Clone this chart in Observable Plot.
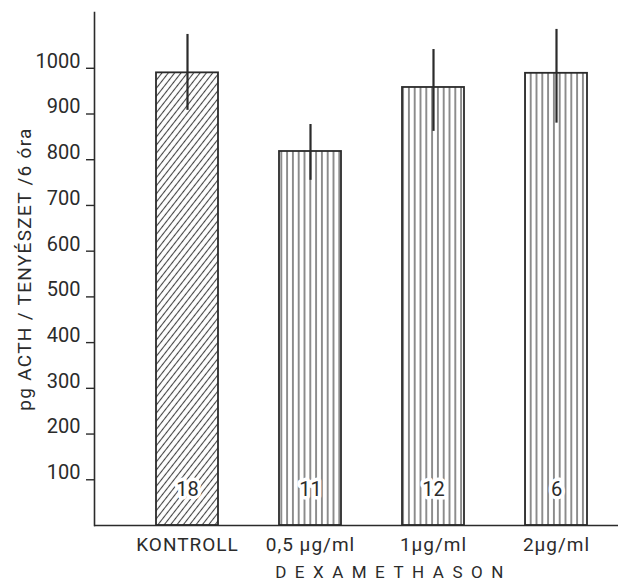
<!DOCTYPE html>
<html>
<head>
<meta charset="utf-8">
<script src="https://cdn.jsdelivr.net/npm/d3@7"></script>
<script src="https://cdn.jsdelivr.net/npm/@observablehq/plot@0.6"></script>
<style>
  html, body { margin: 0; padding: 0; background: #fff; }
</style>
</head>
<body>
<div id="chart"></div>
<script>
const categories = ["KONTROLL", "0,5 µg/ml", "1µg/ml", "2µg/ml"];
const means = [990, 818, 958, 989];
const errLow = [908, 755, 862, 880];
const errHigh = [1074, 877, 1041, 1085];
const counts = ["18", "11", "12", "6"];
const hatches = ["diag", "vert", "vert", "vert"];
const yTicks = [100, 200, 300, 400, 500, 600, 700, 800, 900, 1000];
const yLabel = "pg ACTH / TENYÉSZET /6 óra";
const xLabel = "DEXAMETHASON";

const data = categories.map((c, i) => ({
  cat: c, mean: means[i], lo: errLow[i], hi: errHigh[i], n: counts[i], hatch: hatches[i]
}));

const ink = "#2b2b2b";

const chart = Plot.plot({
  width: 618,
  height: 581,
  marginLeft: 94,
  marginRight: 0,
  marginTop: 12,
  marginBottom: 56,
  style: { fontFamily: "Roboto, 'DejaVu Sans', sans-serif", fontSize: "17px", color: ink, background: "#fff" },
  x: { domain: categories, paddingInner: 0.5, paddingOuter: 0.38, align: 0.66, label: null },
  y: { domain: [0, 1122], label: null },
  marks: [
    Plot.barY(data.filter(d => d.hatch === "diag"), { x: "cat", y: "mean", fill: "url(#hatch-diag)", stroke: ink, strokeWidth: 1.8 }),
    Plot.barY(data.filter(d => d.hatch === "vert"), { x: "cat", y: "mean", fill: "url(#hatch-vert)", stroke: ink, strokeWidth: 1.8 }),
    Plot.ruleX(data, { x: "cat", y1: "lo", y2: "hi", stroke: ink, strokeWidth: 2.2 }),
    Plot.text(data, { x: "cat", text: "n", frameAnchor: "bottom", dy: -30, fill: ink, stroke: "#fff", strokeWidth: 7, paintOrder: "stroke" }),
    Plot.ruleY([0], { stroke: ink, strokeWidth: 1.6 }),
    Plot.frame({ anchor: "left", stroke: ink, strokeWidth: 1.6 }),
    Plot.axisY({ ticks: yTicks, tickSize: 8, tickFormat: () => "", stroke: ink, strokeWidth: 1.4 }),
    Plot.axisY({ ticks: yTicks, tickSize: 0, tickPadding: 14, dy: -7, tickFormat: d => String(d) }),
    Plot.axisX({ tickSize: 0, tickPadding: 12 }),
    Plot.text([xLabel], { frameAnchor: "bottom", dy: 52, dx: 37, fill: ink }),
    Plot.text([yLabel], { frameAnchor: "left", dx: -70, rotate: -90, textAnchor: "middle", fill: ink })
  ]
});

const root = chart.tagName.toLowerCase() === "svg" ? chart : chart.querySelector("svg");
const svg = d3.select(root);
const defs = svg.insert("defs", ":first-child");
const pd = defs.append("pattern")
  .attr("id", "hatch-diag")
  .attr("patternUnits", "userSpaceOnUse")
  .attr("width", 5).attr("height", 5)
  .attr("patternTransform", "rotate(38)");
pd.append("rect").attr("width", 5).attr("height", 5).attr("fill", "#fff");
pd.append("line").attr("x1", 2.5).attr("y1", -1).attr("x2", 2.5).attr("y2", 6)
  .attr("stroke", "#444").attr("stroke-width", 1.1);
const pv = defs.append("pattern")
  .attr("id", "hatch-vert")
  .attr("patternUnits", "userSpaceOnUse")
  .attr("width", 5.8).attr("height", 6);
pv.append("rect").attr("width", 5.8).attr("height", 6).attr("fill", "#fff");
pv.append("line").attr("x1", 2.9).attr("y1", -1).attr("x2", 2.9).attr("y2", 7)
  .attr("stroke", "#444").attr("stroke-width", 1.2);

// text styling
const tickLabels = yTicks.map(String);
svg.selectAll("text").each(function () {
  const t = this.textContent;
  const s = d3.select(this);
  if (t === yLabel) {
    s.style("font-size", "19px").style("letter-spacing", "1.3px");
  } else if (t === xLabel) {
    s.style("font-size", "17px").style("letter-spacing", "8.5px");
  } else if (counts.includes(t)) {
    s.style("font-size", "20px");
  } else if (categories.includes(t)) {
    s.style("font-size", "19px").style("letter-spacing", "1px");
  } else if (tickLabels.includes(t)) {
    s.style("font-size", "20px");
  }
});

document.getElementById("chart").appendChild(chart);
</script>
</body>
</html>
